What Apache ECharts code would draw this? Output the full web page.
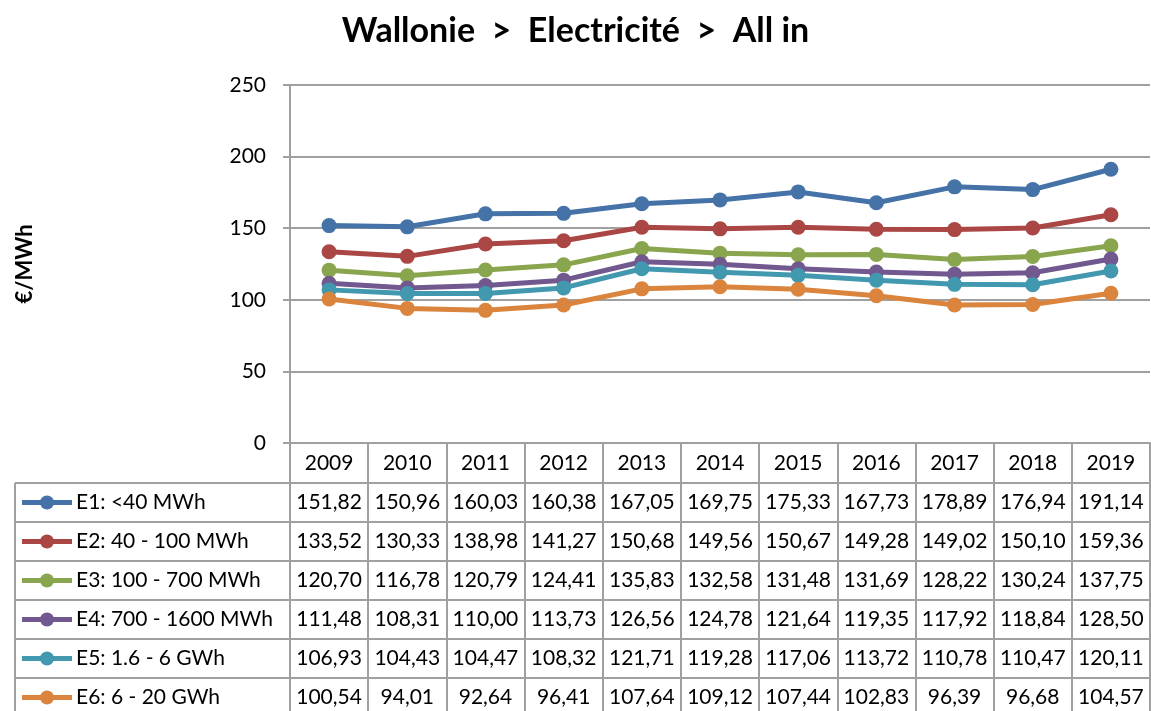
<!DOCTYPE html>
<html>
<head>
<meta charset="utf-8">
<title>Wallonie - Electricité - All in</title>
<script src="https://cdn.jsdelivr.net/npm/echarts@6/dist/echarts.min.js"></script>
<style>
  html, body {margin: 0; padding: 0; background: #fff;}
  #chart {width: 1151px; height: 711px;}
</style>
</head>
<body>
<div id="chart"></div>
<script>
// données
let years = ['2009', '2010', '2011', '2012', '2013', '2014', '2015', '2016', '2017', '2018', '2019'];
let names = ['E1: <40 MWh', 'E2: 40 - 100 MWh', 'E3: 100 - 700 MWh',
  'E4: 700 - 1600 MWh', 'E5: 1.6 - 6 GWh', 'E6: 6 - 20 GWh'];
let colors = ['#4572A7', '#AA4643', '#89A54E', '#71588F', '#4198AF', '#DB843D'];
let e1 = [151.82, 150.96, 160.03, 160.38, 167.05, 169.75, 175.33, 167.73, 178.89, 176.94, 191.14];
let e2 = [133.52, 130.33, 138.98, 141.27, 150.68, 149.56, 150.67, 149.28, 149.02, 150.10, 159.36];
let e3 = [120.70, 116.78, 120.79, 124.41, 135.83, 132.58, 131.48, 131.69, 128.22, 130.24, 137.75];
let e4 = [111.48, 108.31, 110.00, 113.73, 126.56, 124.78, 121.64, 119.35, 117.92, 118.84, 128.50];
let e5 = [106.93, 104.43, 104.47, 108.32, 121.71, 119.28, 117.06, 113.72, 110.78, 110.47, 120.11];
let e6 = [100.54, 94.01, 92.64, 96.41, 107.64, 109.12, 107.44, 102.83, 96.39, 96.68, 104.57];
let allSeries = [e1, e2, e3, e4, e5, e6];

let font = 'Lato, "Open Sans", sans-serif';
let gridColor = '#a0a0a0';
let tableTop = 483;
let rowH = 39;
let tableLeft = 15;
let cellFont = '21px ' + font;

let chart = echarts.init(document.getElementById('chart'));

let option = {
  animation: false,
  textStyle: {fontFamily: font},
  title: {
    text: 'Wallonie  >  Electricité  >  All in',
    left: 'center', top: 9,
    textStyle: {fontSize: 34, fontWeight: 'bold', color: '#000', fontFamily: font}
  },
  grid: {left: 290, right: 1, top: 85, bottom: 268},
  xAxis: {
    type: 'category', data: years, boundaryGap: true,
    axisLine: {lineStyle: {color: gridColor, width: 2}},
    axisTick: {show: true, length: 268, lineStyle: {color: gridColor, width: 2}},
    axisLabel: {fontSize: 21, color: '#000', margin: 10, fontFamily: font}
  },
  yAxis: {
    type: 'value', min: 0, max: 250, interval: 50,
    name: '€/MWh', nameLocation: 'middle', nameRotate: 90, nameGap: 254,
    nameTextStyle: {fontSize: 22, fontWeight: 'bold', color: '#000', fontFamily: font},
    axisLine: {show: true, lineStyle: {color: gridColor, width: 2}},
    axisTick: {show: true, length: 7, lineStyle: {color: gridColor, width: 2}},
    axisLabel: {fontSize: 21, color: '#000', margin: 24, fontFamily: font},
    splitLine: {lineStyle: {color: gridColor, width: 2}}
  },
  series: allSeries.map(function (d, i) {
    return {
      name: names[i], type: 'line', data: d,
      symbol: 'circle', symbolSize: 15,
      itemStyle: {color: colors[i]},
      lineStyle: {color: colors[i], width: 5}
    };
  })
};
chart.setOption(option);

// tableau de données sous l'axe
let fmt = function (v) {
  return v.toFixed(2).replace('.', ',');
};
let plotLeft = 290;
let els = [];
// bordures verticales de la colonne des libellés
els.push({
  type: 'line', shape: {x1: tableLeft, y1: tableTop, x2: tableLeft, y2: 711},
  style: {stroke: gridColor, lineWidth: 2}
});
els.push({
  type: 'line', shape: {x1: plotLeft, y1: tableTop, x2: plotLeft, y2: 711},
  style: {stroke: gridColor, lineWidth: 2}
});
for (let r = 0; r <= names.length; r++) {
  let y = tableTop + r * rowH;
  els.push({
    type: 'line', shape: {x1: tableLeft, y1: y, x2: 1151, y2: y},
    style: {stroke: gridColor, lineWidth: 2}
  });
}
names.forEach(function (n, r) {
  let cy = tableTop + r * rowH + rowH / 2;
  els.push({
    type: 'line', shape: {x1: 22, y1: cy, x2: 72, y2: cy},
    style: {stroke: colors[r], lineWidth: 5}
  });
  els.push({
    type: 'circle', shape: {cx: 47, cy: cy, r: 7},
    style: {fill: colors[r]}
  });
  els.push({
    type: 'text', x: 76, y: cy,
    style: {text: n, font: cellFont, fill: '#000', verticalAlign: 'middle', align: 'left'}
  });
  allSeries[r].forEach(function (v, c) {
    let cx = chart.convertToPixel({xAxisIndex: 0}, c);
    els.push({
      type: 'text', x: cx, y: cy,
      style: {text: fmt(v), font: cellFont, fill: '#000', verticalAlign: 'middle', align: 'center'}
    });
  });
});
chart.setOption({graphic: {elements: els}});
</script>
</body>
</html>
